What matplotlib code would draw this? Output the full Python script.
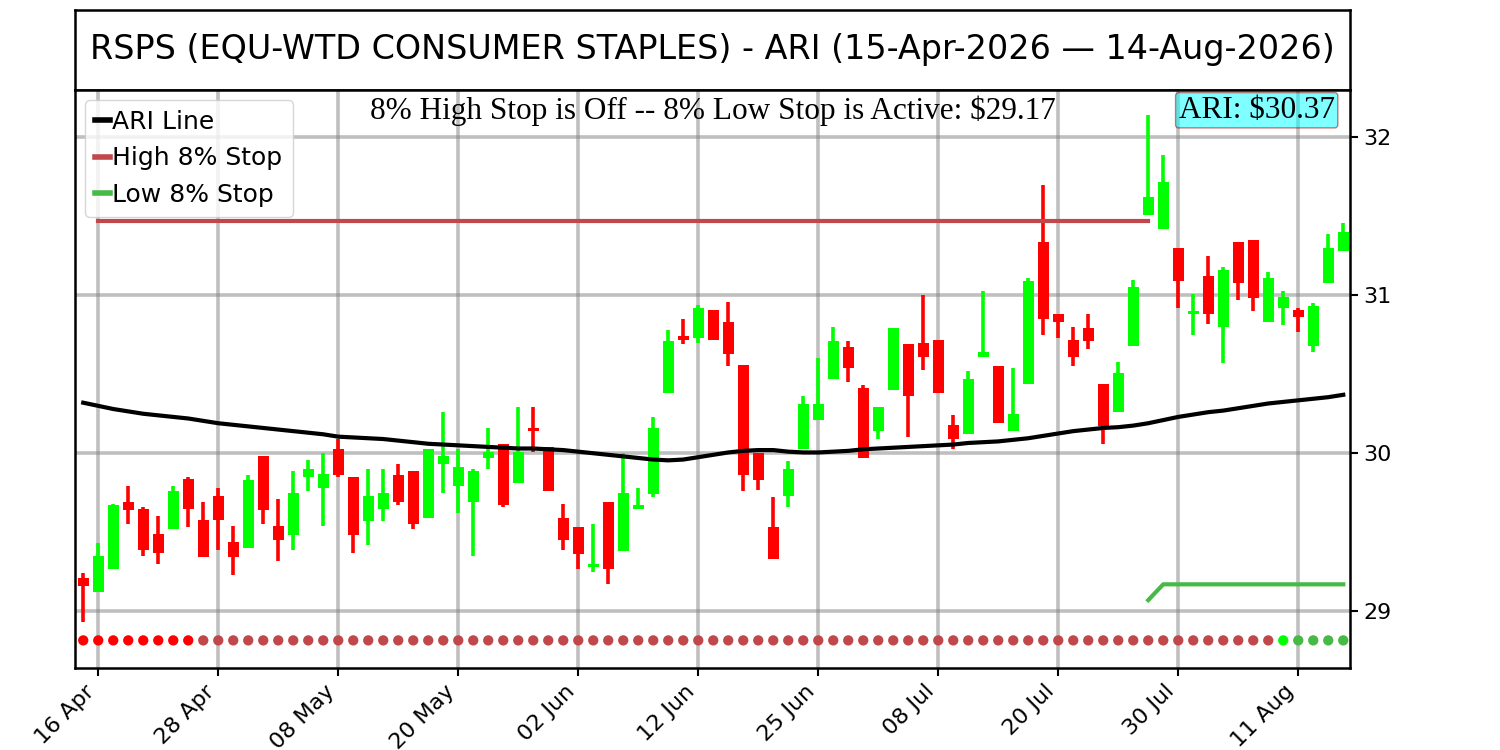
import numpy as np
import matplotlib
matplotlib.use('Agg')
import matplotlib.pyplot as plt
from matplotlib.lines import Line2D

# daily candles, 15-Apr-2026 .. 14-Aug-2026 (trading days)
opens = [29.21, 29.12, 29.27, 29.69, 29.65, 29.49, 29.52, 29.84, 29.58, 29.73,
         29.44, 29.40, 29.98, 29.54, 29.48, 29.85, 29.78, 30.03, 29.85, 29.57,
         29.65, 29.86, 29.89, 29.59, 29.93, 29.79, 29.69, 29.97, 30.06, 29.81,
         30.16, 30.04, 29.59, 29.53, 29.28, 29.69, 29.38, 29.65, 29.74, 30.38,
         30.74, 30.73, 30.91, 30.83, 30.56, 30.00, 29.53, 29.73, 30.03, 30.21,
         30.47, 30.67, 30.41, 30.14, 30.40, 30.69, 30.70, 30.72, 30.18, 30.12,
         30.61, 30.55, 30.14, 30.44, 31.34, 30.88, 30.72, 30.79, 30.44, 30.26,
         30.68, 31.51, 31.42, 31.30, 30.88, 31.12, 30.80, 31.34, 31.35, 30.83,
         30.92, 30.91, 30.68, 31.08, 31.28]
highs = [29.24, 29.43, 29.68, 29.79, 29.66, 29.60, 29.79, 29.85, 29.69, 29.78,
         29.54, 29.86, 29.98, 29.71, 29.89, 29.96, 30.00, 30.09, 29.85, 29.90,
         29.90, 29.93, 29.89, 30.03, 30.26, 30.03, 29.90, 30.16, 30.06, 30.29,
         30.29, 30.04, 29.68, 29.53, 29.55, 29.69, 30.00, 29.78, 30.23, 30.78,
         30.85, 30.94, 30.91, 30.96, 30.56, 30.00, 29.72, 29.95, 30.36, 30.60,
         30.80, 30.71, 30.43, 30.29, 30.79, 30.69, 31.00, 30.72, 30.24, 30.52,
         31.03, 30.55, 30.54, 31.11, 31.70, 30.88, 30.80, 30.88, 30.44, 30.58,
         31.10, 32.14, 31.89, 31.30, 31.01, 31.25, 31.18, 31.34, 31.35, 31.15,
         31.03, 30.92, 30.95, 31.39, 31.46]
lows = [28.93, 29.12, 29.27, 29.55, 29.35, 29.30, 29.52, 29.53, 29.34, 29.39,
        29.23, 29.40, 29.55, 29.32, 29.39, 29.76, 29.54, 29.85, 29.37, 29.42,
        29.57, 29.67, 29.52, 29.59, 29.75, 29.62, 29.35, 29.90, 29.66, 29.81,
        30.01, 29.76, 29.39, 29.27, 29.25, 29.17, 29.38, 29.65, 29.72, 30.38,
        30.69, 30.70, 30.72, 30.55, 29.76, 29.77, 29.33, 29.66, 30.03, 30.21,
        30.47, 30.45, 29.97, 30.09, 30.40, 30.10, 30.53, 30.38, 30.03, 30.12,
        30.61, 30.19, 30.14, 30.44, 30.75, 30.73, 30.55, 30.66, 30.06, 30.26,
        30.68, 31.51, 31.42, 30.92, 30.75, 30.82, 30.57, 30.97, 30.90, 30.83,
        30.81, 30.77, 30.64, 31.08, 31.28]
closes = [29.16, 29.35, 29.67, 29.64, 29.39, 29.37, 29.76, 29.65, 29.34, 29.58,
          29.34, 29.83, 29.64, 29.45, 29.75, 29.90, 29.87, 29.86, 29.48, 29.73,
          29.75, 29.69, 29.55, 30.03, 29.98, 29.91, 29.89, 30.01, 29.67, 30.01,
          30.14, 29.76, 29.45, 29.36, 29.30, 29.27, 29.75, 29.67, 30.16, 30.71,
          30.72, 30.92, 30.72, 30.63, 29.86, 29.83, 29.33, 29.90, 30.31, 30.31,
          30.71, 30.54, 29.97, 30.29, 30.79, 30.36, 30.61, 30.38, 30.09, 30.47,
          30.64, 30.19, 30.25, 31.09, 30.85, 30.83, 30.61, 30.71, 30.17, 30.51,
          31.05, 31.62, 31.72, 31.09, 30.90, 30.88, 31.16, 31.08, 30.98, 31.11,
          30.99, 30.86, 30.93, 31.30, 31.40]

ari = [30.32, 30.30, 30.28, 30.265, 30.25, 30.24, 30.23, 30.22, 30.205, 30.19,
       30.18, 30.17, 30.16, 30.15, 30.14, 30.13, 30.12, 30.105, 30.10, 30.095,
       30.09, 30.08, 30.07, 30.06, 30.055, 30.05, 30.045, 30.04, 30.035, 30.03,
       30.03, 30.025, 30.02, 30.01, 30.00, 29.99, 29.98, 29.97, 29.96, 29.955,
       29.96, 29.975, 29.99, 30.005, 30.015, 30.02, 30.02, 30.01, 30.005, 30.005,
       30.01, 30.015, 30.025, 30.03, 30.035, 30.04, 30.045, 30.05, 30.055, 30.065,
       30.07, 30.075, 30.085, 30.095, 30.11, 30.125, 30.14, 30.15, 30.16, 30.165,
       30.175, 30.19, 30.21, 30.23, 30.245, 30.26, 30.27, 30.285, 30.30, 30.315,
       30.325, 30.335, 30.345, 30.355, 30.37]

high_stop = [None] + [31.47] * 71 + [None] * 13
low_stop = [None] * 71 + [29.07] + [29.17] * 13

# stop state per day: R = high stop just set, r = high stop, G = low stop just set, g = low stop
stop_state = ['R'] * 8 + ['r'] * 72 + ['G'] + ['g'] * 4

tick_pos = [1, 9, 17, 25, 33, 41, 49, 57, 65, 73, 81]
tick_labels = ['16 Apr', '28 Apr', '08 May', '20 May', '02 Jun', '12 Jun',
               '25 Jun', '08 Jul', '20 Jul', '30 Jul', '11 Aug']

title = 'RSPS (EQU-WTD CONSUMER STAPLES) - ARI (15-Apr-2026 \u2014 14-Aug-2026)'
subtitle = '8% High Stop is Off -- 8% Low Stop is Active: $29.17'
ari_label = 'ARI: $30.37'

UP = '#00ff00'
DOWN = '#ff0000'
HIGH_C = '#c0484a'
LOW_C = '#46b946'
STATE_COLORS = {'R': '#ff0000', 'r': '#c0484a', 'G': '#00ff00', 'g': '#46b946'}


def draw_candles(ax):
    x = np.arange(len(opens))
    o = np.array(opens)
    c = np.array(closes)
    colors = [UP if cc >= oo else DOWN for oo, cc in zip(o, c)]
    ax.vlines(x, lows, highs, colors=colors, linewidth=2.6, zorder=3)
    bottoms = np.minimum(o, c)
    heights = np.maximum(np.abs(c - o), 0.012)
    ax.bar(x, heights, bottom=bottoms, width=0.7, color=colors, zorder=3)


def main():
    fig = plt.figure(figsize=(15, 7.5), dpi=100)
    tax = fig.add_axes([0.05, 0.88, 0.85, 0.1067])
    tax.set_xticks([])
    tax.set_yticks([])
    for s in tax.spines.values():
        s.set_linewidth(1.8)
    tax.text(0.5, 0.5, title, ha='center', va='center', fontsize=24,
             transform=tax.transAxes)

    ax = fig.add_axes([0.05, 0.1093, 0.85, 0.7707])
    for s in ax.spines.values():
        s.set_linewidth(1.8)
    ax.grid(True, color='gray', alpha=0.5, linewidth=2.6, zorder=0)
    ax.set_axisbelow(True)

    draw_candles(ax)

    x = np.arange(len(ari))
    ax.plot(x, ari, color='black', linewidth=3, zorder=4)
    hs = np.array([np.nan if v is None else v for v in high_stop])
    ls = np.array([np.nan if v is None else v for v in low_stop])
    ax.plot(x, hs, color=HIGH_C, linewidth=3, zorder=4)
    ax.plot(x, ls, color=LOW_C, linewidth=3, zorder=4)

    dot_y = [28.815] * len(stop_state)
    ax.scatter(x, dot_y, s=55, c=[STATE_COLORS[k] for k in stop_state],
               zorder=5, linewidths=0)

    ax.set_xlim(-0.55, 84.45)
    ax.set_ylim(28.64, 32.3)
    ax.set_yticks([29, 30, 31, 32])
    ax.yaxis.tick_right()
    ax.tick_params(axis='y', labelsize=16, width=1.5, length=6)
    ax.tick_params(axis='x', labelsize=16, width=1.5, length=6)
    ax.set_xticks(tick_pos)
    ax.set_xticklabels(tick_labels, rotation=45, ha='right')

    ax.text(0.5, 0.99, subtitle, transform=ax.transAxes, ha='center', va='top',
            fontsize=22.5, family='Liberation Serif', zorder=6)
    ax.text(0.988, 0.99, ari_label, transform=ax.transAxes, ha='right', va='top',
            fontsize=22.5, family='Liberation Serif', zorder=6,
            bbox=dict(boxstyle='round,pad=0.1', facecolor='cyan', alpha=0.5,
                      edgecolor='darkred'))

    handles = [Line2D([], [], color='black', linewidth=4),
               Line2D([], [], color=HIGH_C, linewidth=4),
               Line2D([], [], color=LOW_C, linewidth=4)]
    ax.legend(handles, ['ARI Line', 'High 8% Stop', 'Low 8% Stop'],
              loc='upper left', fontsize=18, handlelength=0.6, handletextpad=0.1,
              borderaxespad=0.4, framealpha=0.8)

    fig.savefig('out.png', dpi=100)


if __name__ == '__main__':
    main()
